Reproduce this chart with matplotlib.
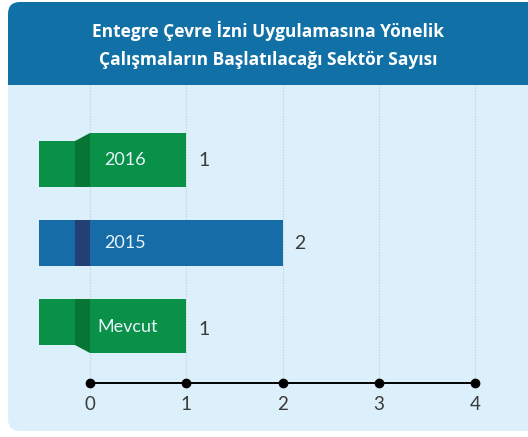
import matplotlib.pyplot as plt
from matplotlib.patches import FancyBboxPatch, Rectangle, Polygon

# data
categories = ['2016', '2015', 'Mevcut']
values = [1, 2, 1]
ticks = [0, 1, 2, 3, 4]
title = 'Entegre Çevre İzni Uygulamasına Yönelik\nÇalışmaların Başlatılacağı Sektör Sayısı'

green = '#0a9148'
green_dark = '#077534'
blue = '#156ca6'
blue_dark = '#233f73'
header_col = '#1170a6'
body_col = '#dcf0fb'
text_col = '#3a3a3a'
label_font = 'Lato'

W, H = 528, 437
fig = plt.figure(figsize=(W / 100, H / 100), dpi=100)

# background in pixel coords
bg = fig.add_axes([0, 0, 1, 1])
bg.set_xlim(0, W)
bg.set_ylim(H, 0)
bg.axis('off')
bg.add_patch(FancyBboxPatch((8, 60), 600, 371, boxstyle='round,pad=0,rounding_size=12',
                            fc=body_col, ec='none'))
bg.add_patch(FancyBboxPatch((8, 2), 600, 100, boxstyle='round,pad=0,rounding_size=12',
                            fc=header_col, ec='none'))
bg.add_patch(Rectangle((8, 85), 600, 60, fc=body_col, ec='none'))
bg.text(268, 45, title, ha='center', va='center', color='white', fontsize=12.5,
        fontweight='bold', family='Open Sans', linespacing=1.75)

# chart axes: data x, category index y
ax = fig.add_axes([0, 0, 1, 1])
ax.patch.set_alpha(0)
ax.axis('off')
px = 96.25
ax.set_xlim(-90 / px, (W - 90) / px)
u = 83.0
ax.set_ylim((H - 160) / u, -160 / u)

ypos = list(range(len(categories)))
axis_y = (383 - 160) / u
top_y = (85 - 160) / u

for t in ticks:
    ax.plot([t, t], [top_y, axis_y], color='#c5ccd3', lw=0.8, ls=(0, (1, 1.5)), zorder=1)

stub_l, stub_r = -51 / px, -15 / px
for i, (cat, v) in enumerate(zip(categories, values)):
    y = ypos[i]
    if cat == '2015':
        h = 46 / u
        ax.barh(y, v - stub_l, left=stub_l, height=h, color=blue, zorder=2)
        ax.add_patch(Rectangle((stub_r, y - h / 2), -stub_r, h, fc=blue_dark, ec='none', zorder=3))
        ax.text(14 / px, y, cat, color='#e8f4fb', fontsize=13, family=label_font,
                va='center', ha='left', zorder=4)
    else:
        h = 54 / u
        sh = 46 / u
        ax.barh(y, v, height=h, color=green, zorder=2)
        if i == 0:
            # stub sits lower, fold rises to the main bar top
            sb = y + h / 2
            ax.add_patch(Rectangle((stub_l, sb - sh), stub_r - stub_l, sh, fc=green, ec='none', zorder=2))
            ax.add_patch(Polygon([(stub_r, sb - sh), (0, y - h / 2), (0, sb), (stub_r, sb)],
                                 closed=True, fc=green_dark, ec='none', zorder=3))
        else:
            st = y - h / 2
            ax.add_patch(Rectangle((stub_l, st), stub_r - stub_l, sh, fc=green, ec='none', zorder=2))
            ax.add_patch(Polygon([(stub_r, st), (0, st), (0, y + h / 2), (stub_r, st + sh)],
                                 closed=True, fc=green_dark, ec='none', zorder=3))
        tx = 14 / px if cat != 'Mevcut' else 7 / px
        ty = y if i == 0 else y + 1 / u
        ax.text(tx, ty, cat, color='#e8f4fb', fontsize=13, family=label_font,
                va='center', ha='left', zorder=4)
    vy = y + (1 / u if i == 0 else (1 / u if cat == '2015' else 4 / u))
    ax.text(v + 12 / px, vy, str(v), color=text_col, fontsize=14, family=label_font,
            va='center', ha='left', zorder=4)

ax.plot([ticks[0], ticks[-1]], [axis_y, axis_y], color='black', lw=1.4, zorder=3)
ax.plot(ticks, [axis_y] * len(ticks), 'o', color='black', ms=6, zorder=4)
for t in ticks:
    ax.text(t, axis_y + 22 / u, str(t), color=text_col, fontsize=13.5, family=label_font,
            ha='center', va='center')

fig.savefig('out.png', dpi=100)
